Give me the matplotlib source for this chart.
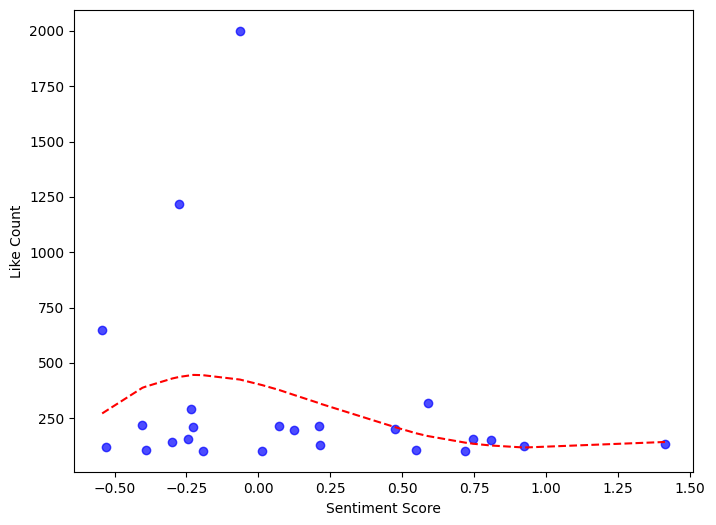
import matplotlib
matplotlib.use('Agg')
import matplotlib.pyplot as plt

# scatter data
sentiment = [-0.543, -0.531, -0.403, -0.392, -0.299, -0.275, -0.243, -0.233,
             -0.226, -0.194, -0.064, 0.013, 0.072, 0.125, 0.212, 0.215,
             0.475, 0.549, 0.588, 0.719, 0.747, 0.809, 0.924, 1.413]
likes = [650, 120, 220, 105, 145, 1220, 157, 292,
         210, 101, 2000, 101, 215, 197, 215, 129,
         200, 109, 318, 101, 156, 151, 127, 133]

# trend curve (dashed), evaluated at the sorted sentiment values
trend = [272, 282, 388, 393, 430, 437, 443, 445,
         446, 445, 425, 400, 378, 355, 318, 316,
         210, 182, 170, 140, 135, 127, 118, 143]

fig = plt.figure(figsize=(7.16, 5.25), dpi=100)
ax = fig.add_subplot(111)
fig.subplots_adjust(left=0.1034, right=0.968, top=0.981, bottom=0.1004)

ax.scatter(sentiment, likes, color='blue', alpha=0.7)
ax.plot(sentiment, trend, 'r--')

ax.set_xlabel('Sentiment Score')
ax.set_ylabel('Like Count')

fig.savefig('out.png', dpi=100)
